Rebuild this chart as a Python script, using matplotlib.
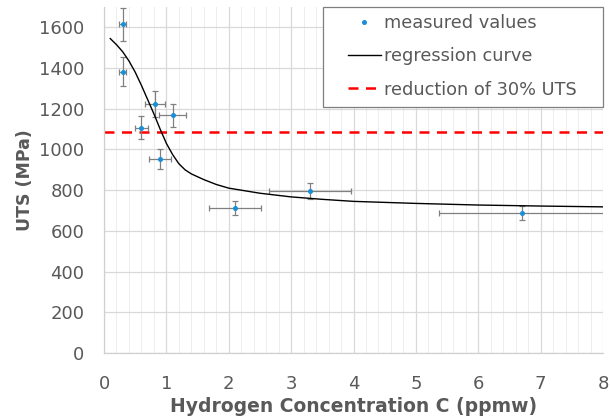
import matplotlib
matplotlib.use("Agg")
import matplotlib.pyplot as plt
from matplotlib.patches import Rectangle
import numpy as np

# measured data
conc = [0.30, 0.30, 0.81, 1.10, 0.60, 0.90, 2.10, 3.30, 6.70]
uts = [1615, 1383, 1222, 1168, 1106, 954, 712, 797, 689]
conc_err = [0.06, 0.06, 0.16, 0.22, 0.11, 0.18, 0.42, 0.66, 1.33]
uts_err = [82, 69, 64, 57, 56, 49, 34, 39, 34]

# regression curve
curve_c = [0.1, 0.2, 0.3, 0.4, 0.5, 0.6, 0.7, 0.8, 0.9, 1.0, 1.1, 1.2, 1.3, 1.4,
           1.6, 1.8, 2.0, 2.5, 3.0, 3.5, 4.0, 5.0, 6.0, 7.0, 8.0]
curve_uts = [1545, 1515, 1480, 1435, 1380, 1315, 1245, 1175, 1100, 1030, 975, 930, 900, 880,
             852, 828, 810, 785, 767, 755, 745, 735, 727, 722, 718]

reduction_level = 1085

x_ticks = [0, 1, 2, 3, 4, 5, 6, 7, 8]
y_ticks = [0, 200, 400, 600, 800, 1000, 1200, 1400, 1600]

text_color = "#595959"
plt.rcParams['font.family'] = ['DejaVu Sans']

W, H = 610, 419
fig = plt.figure(figsize=(W/100, H/100), dpi=100)
ax = fig.add_axes([104/W, 1 - 353/H, (603-104)/W, (353-7)/H])

ax.errorbar(conc, uts, xerr=conc_err, yerr=uts_err, fmt='none', ecolor='#808080',
            elinewidth=0.9, capsize=2.5, capthick=0.9, zorder=3)
ax.plot(conc, uts, 'o', color='#1a8fd8', markersize=2.6, linestyle='none',
        label='measured values', zorder=4)
ax.plot(curve_c, curve_uts, color='black', linewidth=1.0, label='regression curve', zorder=3)
ax.axhline(reduction_level, color='#ff0000', linestyle=(0, (4, 3)), linewidth=1.8,
           label='reduction of 30% UTS', zorder=2)

ax.set_xlim(0, 8)
ax.set_ylim(0, 1700)
ax.set_xticks(x_ticks)
ax.set_yticks(y_ticks)
ax.set_xticks(np.arange(0, 8.01, 0.2), minor=True)
ax.grid(which='major', color='#d9d9d9', linewidth=0.9)
ax.grid(which='minor', axis='x', color='#ededed', linewidth=0.7)
ax.set_axisbelow(True)
ax.tick_params(which='both', length=0, labelsize=13, labelcolor=text_color)
ax.tick_params(axis='x', which='both', pad=16)
ax.tick_params(axis='y', which='both', pad=14)

for s in ['top', 'right']:
    ax.spines[s].set_visible(False)
for s in ['left', 'bottom']:
    ax.spines[s].set_color('#d0d0d0')
    ax.spines[s].set_linewidth(0.9)

ax.set_xlabel('Hydrogen Concentration C (ppmw)', fontsize=13.5, color=text_color,
              fontweight='bold', labelpad=3)
ax.set_ylabel('UTS (MPa)', fontsize=12.5, color=text_color, fontweight='bold', labelpad=4)

# legend frame
frame = Rectangle((323/W, 1 - 107/H), (603-323)/W, (107-7)/H, transform=fig.transFigure,
                  facecolor='white', edgecolor='#7f7f7f', linewidth=0.9, zorder=4.8)
ax.add_artist(frame)
frame.set_clip_on(False)

leg = ax.legend(loc='upper left', bbox_to_anchor=(348/W, 1 - 14/H),
                bbox_transform=fig.transFigure, fontsize=12.8, frameon=False,
                handlelength=1.85, borderpad=0, borderaxespad=0, labelspacing=0.86,
                handletextpad=0.2, markerscale=1.0)
leg.set_zorder(5)
for t in leg.get_texts():
    t.set_color(text_color)

fig.savefig('out.png', dpi=100)
